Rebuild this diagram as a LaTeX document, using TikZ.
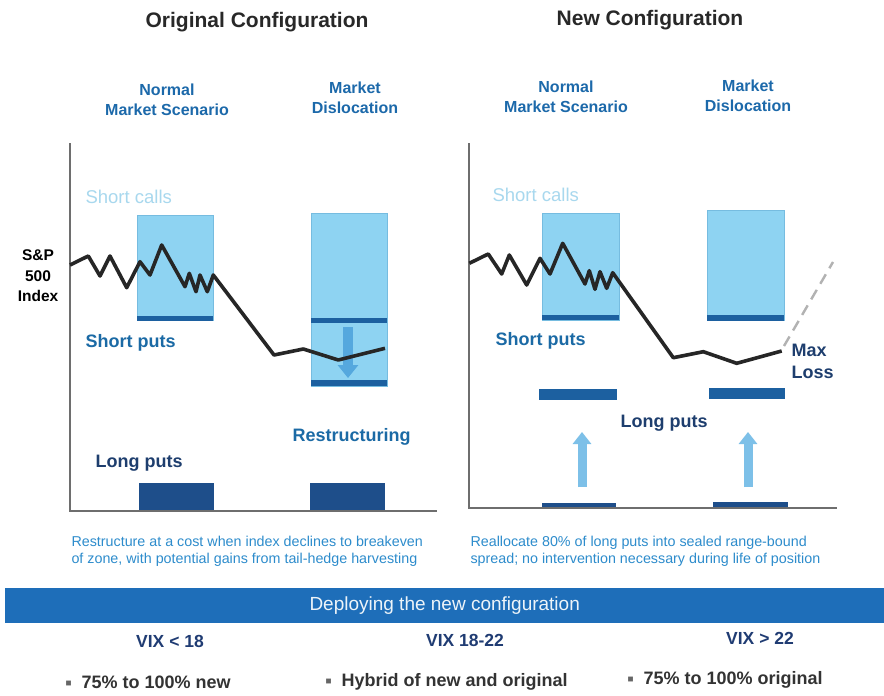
\documentclass[tikz,border=0pt]{standalone}
\usepackage{fontspec}
\setmainfont{Liberation Sans}
\usetikzlibrary{arrows.meta}
\definecolor{callfill}{RGB}{142,211,242}
\definecolor{callline}{RGB}{118,188,224}
\definecolor{barblue}{RGB}{28,96,160}
\definecolor{lpblue}{RGB}{30,78,138}
\definecolor{navy}{RGB}{30,62,110}
\definecolor{midblue}{RGB}{27,106,165}
\definecolor{lightlbl}{RGB}{168,216,238}
\definecolor{capblue}{RGB}{45,140,204}
\definecolor{subblue}{RGB}{28,105,170}
\definecolor{bandblue}{RGB}{30,110,185}
\definecolor{vixnavy}{RGB}{32,60,115}
\definecolor{axisgray}{RGB}{110,110,110}
\definecolor{arrowblue}{RGB}{85,168,222}
\definecolor{uparrow}{RGB}{125,192,232}
\definecolor{titlegray}{RGB}{40,40,40}
\begin{document}
\begin{tikzpicture}[x=1pt,y=-1pt,
  calls/.style={draw=callline, fill=callfill, line width=0.6pt, anchor=north west, inner sep=0pt, outer sep=0pt},
  bar/.style={fill=barblue, anchor=north west, inner sep=0pt, outer sep=0pt},
  lpbar/.style={fill=lpblue, anchor=north west, inner sep=0pt, outer sep=0pt},
  axis/.style={draw=axisgray, line width=1.3pt},
  index/.style={draw=black!85, line width=3.6pt, line join=round},
  title/.style={font=\bfseries\fontsize{21}{24}\selectfont, text=titlegray},
  sub/.style={font=\bfseries\fontsize{16}{20}\selectfont, text=subblue, align=center},
  lbllight/.style={font=\fontsize{18.5}{21}\selectfont, text=lightlbl, anchor=west},
  lblmid/.style={font=\bfseries\fontsize{18}{21}\selectfont, text=midblue, anchor=west},
  lblnavy/.style={font=\bfseries\fontsize{18}{22}\selectfont, text=navy, anchor=west, align=left},
  caption/.style={font=\fontsize{14.3}{17}\selectfont, text=capblue, anchor=west, align=left},
  vix/.style={font=\bfseries\fontsize{17.5}{20}\selectfont, text=vixnavy},
  bullet/.style={font=\bfseries\fontsize{18}{20}\selectfont, text=black!80, anchor=west},
  fatdown/.style={draw=arrowblue, line width=10pt, -{Triangle[width=20pt,length=13pt]}},
  fatup/.style={draw=uparrow, line width=9pt, -{Triangle[width=18pt,length=12pt]}}
]
\useasboundingbox (0,0) rectangle (884,696);
\fill[white] (0,0) rectangle (884,696);

% titles
\node[title] (t1) at (257,22) {Original Configuration};
\node[title] (t2) at (650,20) {New Configuration};
\node[sub] (s1) at (167,100) {Normal\\Market Scenario};
\node[sub] (s2) at (355,98) {Market\\Dislocation};
\node[sub] (s3) at (566,97) {Normal\\Market Scenario};
\node[sub] (s4) at (748,96) {Market\\Dislocation};

% ---------- left panel ----------
\node[calls, minimum width=76pt, minimum height=105pt] (lc1) at (137,215) {};
\node[calls, minimum width=76pt, minimum height=173pt] (lc2) at (311,213) {};
\node[bar, minimum width=76pt, minimum height=5pt] (lb1) at (137,316) {};
\node[bar, minimum width=76pt, minimum height=5pt] (lb2) at (311,318) {};
\node[bar, minimum width=76pt, minimum height=6pt] (lb3) at (311,380) {};
\node[lpbar, minimum width=75pt, minimum height=28pt] (lp1) at (139,483) {};
\node[lpbar, minimum width=75pt, minimum height=28pt] (lp2) at (310,483) {};

\coordinate (la0) at (70,143);
\coordinate (la1) at (70,511);
\coordinate (la2) at (437,511);
\draw[axis] (la0) -- (la1) -- (la2);

\coordinate (dA) at (348,327);
\coordinate (dB) at (348,378);
\draw[fatdown] (dA) -- (dB);

\draw[index] (70,265) -- (88.3,256) -- (100,276) -- (110,256) -- (126.7,287.7) -- (140,261.7) -- (150,275) -- (161.7,245) -- (185,286.7) -- (189.3,273.3) -- (196,291.7) -- (200,275) -- (207.3,291.7) -- (213.3,275) -- (274,355) -- (303.3,349) -- (338.3,360) -- (385,348.3);

\node[font=\bfseries\fontsize{15.5}{20.5}\selectfont, align=center] (sp) at (38,276) {S\&P\\500\\Index};
\node[lbllight] (lsc) at (82,197) {Short calls};
\node[lblmid] (lsp) at (82,343) {Short puts};
\node[lblnavy] (llp) at (92,463) {Long puts};
\node[lblmid] (lre) at (289,437) {Restructuring};
\node[caption] (lcap) at (68,551) {Restructure at a cost when index declines to breakeven\\of zone, with potential gains from tail-hedge harvesting};

% ---------- right panel ----------
\node[calls, minimum width=77pt, minimum height=107pt] (rc1) at (542,213) {};
\node[calls, minimum width=77pt, minimum height=110pt] (rc2) at (707,210) {};
\node[bar, minimum width=77pt, minimum height=5pt] (rb1) at (542,315) {};
\node[bar, minimum width=77pt, minimum height=6pt] (rb2) at (707,315) {};
\node[bar, minimum width=78pt, minimum height=11pt] (rb3) at (539,389) {};
\node[bar, minimum width=76pt, minimum height=11pt] (rb4) at (709,388) {};
\node[lpbar, minimum width=74pt, minimum height=5pt] (rp1) at (542,503) {};
\node[lpbar, minimum width=75pt, minimum height=6pt] (rp2) at (713,502) {};

\coordinate (ra0) at (469,143);
\coordinate (ra1) at (469,508);
\coordinate (ra2) at (837,508);
\draw[axis] (ra0) -- (ra1) -- (ra2);

\coordinate (uA1) at (582,487);
\coordinate (uB1) at (582,432);
\coordinate (uA2) at (748,487);
\coordinate (uB2) at (748,432);
\draw[fatup] (uA1) -- (uB1);
\draw[fatup] (uA2) -- (uB2);

\coordinate (rend) at (781.7,351);
\coordinate (dash0) at (784,346);
\coordinate (dash1) at (833,262);
\draw[index] (469.3,263.3) -- (488.3,254) -- (501.7,274) -- (509.3,255) -- (526.7,285) -- (540,258.3) -- (550,274) -- (562.7,243.3) -- (585,284) -- (589.3,270.7) -- (595,289.3) -- (600,271.7) -- (606.7,288.3) -- (612.7,272.7) -- (673.3,357.7) -- (703.3,351.7) -- (736.7,363.3) -- (rend);
\draw[draw=black!30, line width=2.4pt, dash pattern=on 11pt off 7pt] (dash0) -- (dash1);

\node[lbllight] (rsc) at (489,195) {Short calls};
\node[lblmid] (rsp) at (492,341) {Short puts};
\node[lblnavy] (rml) at (788,361) {Max\\Loss};
\node[lblnavy] (rlp) at (617,423) {Long puts};
\node[caption] (rcap) at (467,551) {Reallocate 80\% of long puts into sealed range-bound\\spread; no intervention necessary during life of position};

% ---------- bottom band ----------
\node[fill=bandblue, minimum width=879pt, minimum height=35pt, anchor=north west, inner sep=0pt] (band) at (5,588) {};
\node[font=\fontsize{19}{22}\selectfont, text=white!92!bandblue] (bandt) at (band.center) {Deploying the new configuration};
\node[vix] (v1) at (170,641) {VIX < 18};
\node[vix] (v2) at (465,640) {VIX 18-22};
\node[vix] (v3) at (760,638) {VIX > 22};
\node[bullet] (b1) at (62,682) {\textcolor{black!60}{\fontsize{10}{10}\selectfont\raisebox{2pt}{■}}\hspace{10pt}75\% to 100\% new};
\node[bullet] (b2) at (322,682) {\textcolor{black!60}{\fontsize{10}{10}\selectfont\raisebox{2pt}{■}}\hspace{10pt}Hybrid of new and original};
\node[bullet] (b3) at (624,680) {\textcolor{black!60}{\fontsize{10}{10}\selectfont\raisebox{2pt}{■}}\hspace{10pt}75\% to 100\% original};
\end{tikzpicture}
\end{document}
